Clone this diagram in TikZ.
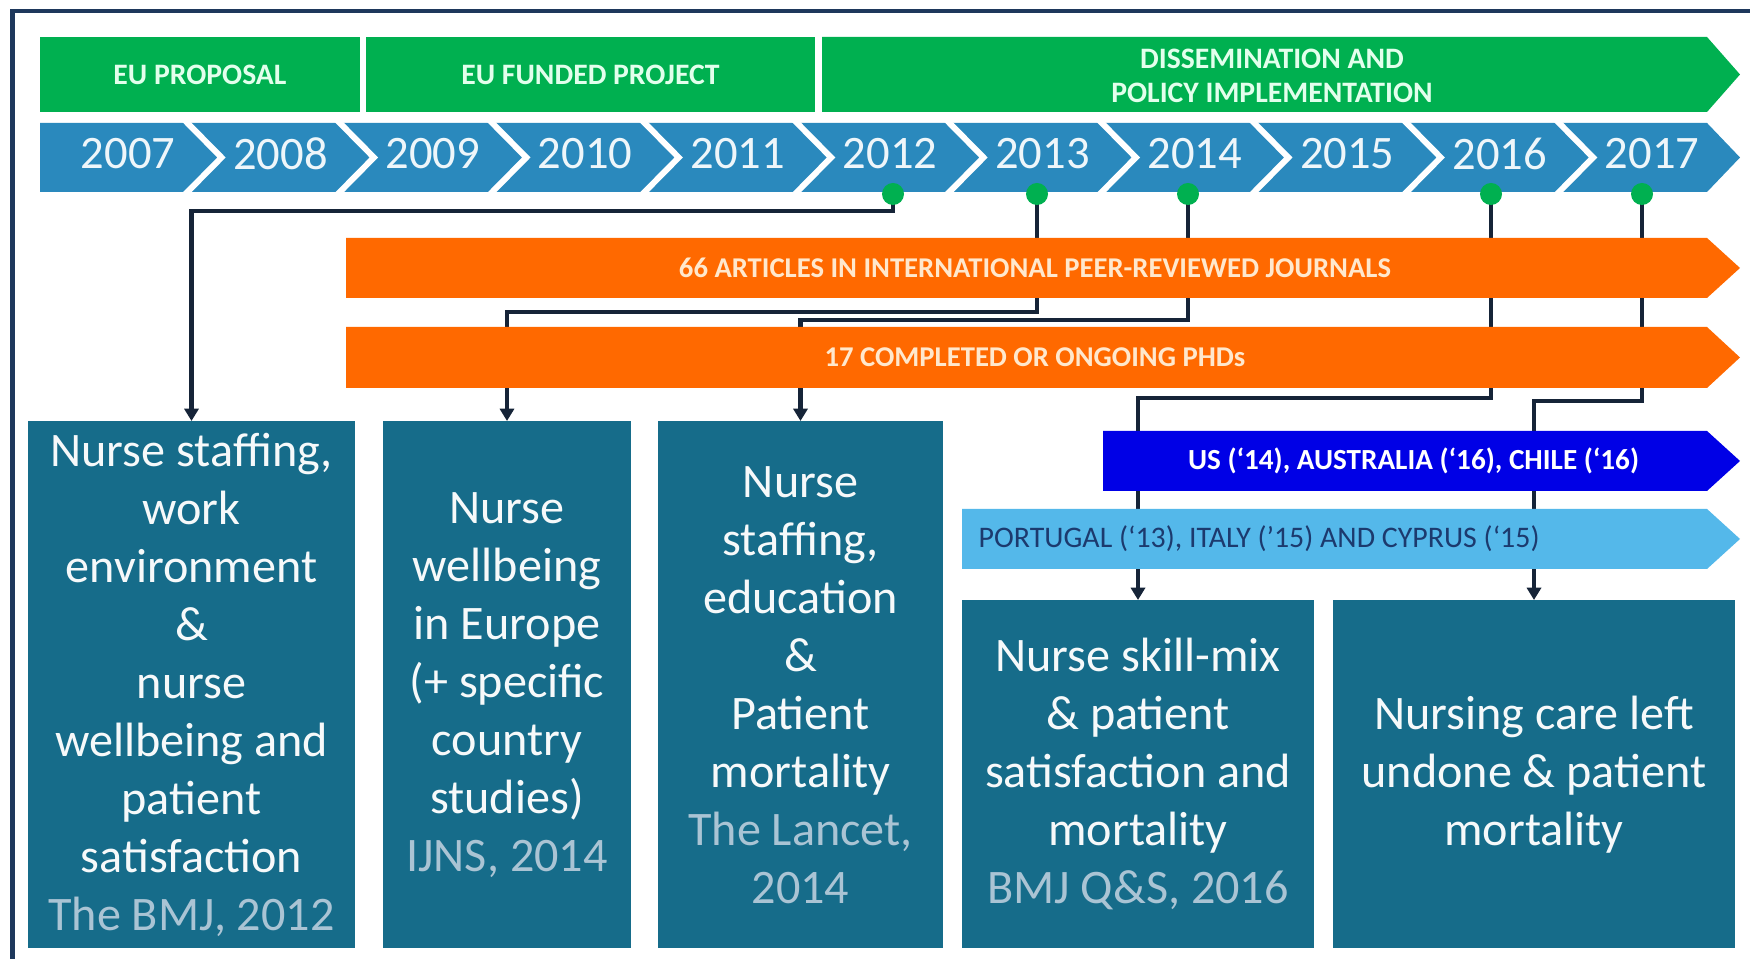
\documentclass[tikz,border=0pt]{standalone}
\usepackage{fontspec}
\setmainfont{Carlito}
\usepackage{tikz}
\usetikzlibrary{arrows.meta, positioning, backgrounds, calc}

\definecolor{phaseG}{RGB}{0,176,80}
\definecolor{mint}{RGB}{226,255,236}
\definecolor{yearB}{RGB}{42,137,189}
\definecolor{pubO}{RGB}{255,105,0}
\definecolor{peach}{RGB}{255,232,205}
\definecolor{intlB}{RGB}{0,0,230}
\definecolor{euB}{RGB}{84,184,234}
\definecolor{euText}{RGB}{28,58,110}
\definecolor{boxT}{RGB}{22,108,138}
\definecolor{cite}{RGB}{170,196,212}
\definecolor{navy}{RGB}{22,36,56}
\definecolor{frameC}{RGB}{30,56,92}

\begin{document}
\begin{tikzpicture}[
    phasebox/.style={fill=phaseG,text=mint,align=center,inner sep=0pt,
      outer sep=0pt,minimum height=1.5cm,
      font=\fontsize{16.9}{19.5}\selectfont\bfseries},
    yearlbl/.style={text=white!92!yearB,font=\fontsize{26.5}{30}\selectfont},
    barlbl/.style={font=\fontsize{16.3}{18}\selectfont\bfseries},
    card/.style={fill=boxT,text=white!96!boxT,align=center,inner sep=0pt,
      anchor=north,font=\fontsize{27.4}{33}\selectfont},
    yrdot/.style={circle,fill=phaseG,minimum size=0.44cm,inner sep=0pt},
    chev/.style={draw=white,line width=3.4pt},
    conn/.style={draw=navy,line width=2.3pt,
      -{Triangle[length=7pt,width=8pt]}}
  ]
  \useasboundingbox (0,0) rectangle (35,19.18);
  \begin{scope}[on background layer]
    \fill[white] (0,0) rectangle (35,19.18);
  \end{scope}

  % outer frame
  \draw[frameC,line width=2.6pt] (0.25,0) |- (35,18.96);

  % project phases
  \node[phasebox,minimum width=6.4cm] (eup) at (4.0,17.69) {EU PROPOSAL};
  \node[phasebox,minimum width=8.98cm] (euf) at (11.81,17.69) {EU FUNDED PROJECT};
  \fill[phaseG] (16.44,16.94) -- (16.44,18.44) -- (34.14,18.44)
    -- (34.8,17.69) -- (34.14,16.94) -- cycle;
  \node[phasebox,fill=none] (dis) at (25.44,17.66)
    {DISSEMINATION AND\\POLICY IMPLEMENTATION};

  % year chevrons
  \fill[yearB] (0.8,16.72) -- (34.14,16.72) -- (34.8,16.03)
    -- (34.14,15.34) -- (0.8,15.34) -- cycle;
  \foreach \k in {0,...,9}
    \draw[chev] ({4.09+3.048*\k-0.42},16.80) -- ++(0.76,-0.77) -- ++(-0.76,-0.77);
  \foreach \yr [count=\i from 0] in {2007,...,2017}
    \node[yearlbl] (y\yr) at ({2.56+3.048*\i},16.11) {\yr};

  % publication dots
  \foreach \yr/\x in {2012/17.86,2013/20.74,2014/23.76,2016/29.82,2017/32.84}
    \node[yrdot] (d\yr) at (\x,15.3) {};

  % outputs
  \fill[pubO] (6.92,13.22) -- (6.92,14.42) -- (34.14,14.42)
    -- (34.8,13.82) -- (34.14,13.22) -- cycle;
  \node[barlbl,text=peach] (art) at (20.7,13.82)
    {66 ARTICLES IN INTERNATIONAL PEER-REVIEWED JOURNALS};
  \fill[pubO] (6.92,11.42) -- (6.92,12.64) -- (34.14,12.64)
    -- (34.8,12.03) -- (34.14,11.42) -- cycle;
  \node[barlbl,text=peach] (phd) at (20.7,12.03)
    {17 COMPLETED OR ONGOING PHDs};

  % replications
  \fill[intlB] (22.06,9.36) -- (22.06,10.56) -- (34.14,10.56)
    -- (34.8,9.96) -- (34.14,9.36) -- cycle;
  \node[barlbl,text=white,font=\fontsize{16.6}{18}\selectfont\bfseries] (intl)
    at (28.27,9.96) {US (‘14), AUSTRALIA (‘16), CHILE (‘16)};
  \fill[euB] (19.24,7.8) -- (19.24,9.0) -- (34.14,9.0)
    -- (34.8,8.4) -- (34.14,7.8) -- cycle;
  \node[font=\fontsize{17}{18}\selectfont,text=euText,anchor=west] (eu)
    at (19.45,8.4) {PORTUGAL (‘13), ITALY (’15) AND CYPRUS (‘15)};

  % key papers
  \node[card,minimum width=6.54cm,minimum height=10.54cm] (b1) at (3.83,10.76)
    {Nurse staffing,\\work\\environment\\\&\\nurse\\wellbeing and\\patient\\
     satisfaction\\\textcolor{cite}{The BMJ, 2012}};
  \node[card,minimum width=4.96cm,minimum height=10.54cm] (b2) at (10.14,10.76)
    {Nurse\\wellbeing\\in Europe\\(+ specific\\country\\studies)\\
     \textcolor{cite}{IJNS, 2014}};
  \node[card,minimum width=5.7cm,minimum height=10.54cm] (b3) at (16.01,10.76)
    {Nurse\\staffing,\\education\\\&\\Patient\\mortality\\
     \textcolor{cite}{The Lancet,}\\\textcolor{cite}{2014}};
  \node[card,minimum width=7.04cm,minimum height=6.96cm] (b4) at (22.76,7.18)
    {Nurse skill-mix\\\& patient\\satisfaction and\\mortality\\
     \textcolor{cite}{BMJ Q\&S, 2016}};
  \node[card,minimum width=8.04cm,minimum height=6.96cm] (b5) at (30.68,7.18)
    {Nursing care left\\undone \& patient\\mortality};

  % links from year to paper
  \begin{scope}[on background layer]
    \draw[conn] (d2012.center) -- ++(0,-0.34) -| (b1.north);
    \draw[conn] (d2013.center) -- ++(0,-2.36) -| (b2.north);
    \draw[conn] (d2014.center) -- ++(0,-2.52) -| (b3.north);
    \draw[conn] (d2016.center) -- ++(0,-4.08) -| (b4.north);
    \draw[conn] (d2017.center) -- ++(0,-4.14) -| (b5.north);
  \end{scope}
\end{tikzpicture}
\end{document}
